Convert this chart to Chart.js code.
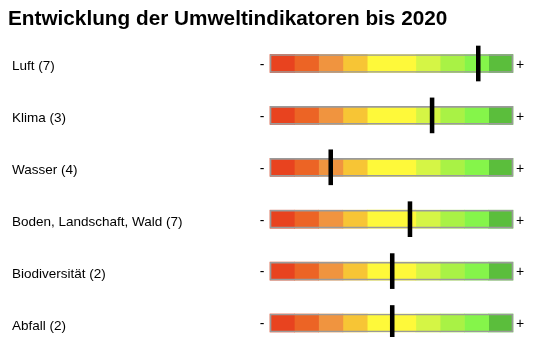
<!DOCTYPE html>
<html>
<head>
<meta charset="utf-8">
<script src="https://cdn.jsdelivr.net/npm/chart.js@4/dist/chart.umd.min.js"></script>
<style>
  html, body { margin: 0; padding: 0; background: #fff; }
  #wrap { width: 538px; height: 337px; }
</style>
</head>
<body>
<div id="wrap"><canvas id="indikatoren"></canvas></div>
<script>
// Kategorien und mittlere Bewertung (-5 = schlecht, +5 = gut)
var categories = ['Luft (7)', 'Klima (3)', 'Wasser (4)', 'Boden, Landschaft, Wald (7)', 'Biodiversität (2)', 'Abfall (2)'];
var scores = [3.57, 1.67, -2.5, 0.76, 0.03, 0.03];

// Grenzen der Farbfelder auf der Skala
var segmentEdges = [-5, -4, -3, -2, -1, 1, 2, 3, 4, 5];
var segmentColors = ['#e8431f', '#ec6425', '#f0943f', '#f7c535', '#fef93a', '#d5f545', '#a9f245', '#85f54a', '#5bbe3c'];

var titleText = 'Entwicklung der Umweltindikatoren bis 2020';
var markerHalf = 0.08;

var datasets = [];

// Markierung (oben)
datasets.push({
    label: 'Bewertung',
    data: scores.map(function (v) { return [v - markerHalf, v + markerHalf]; }),
    backgroundColor: '#000',
    barThickness: 35,
    grouped: false,
    order: 0,
    clip: false
});

// Rahmen
datasets.push({
    label: 'Rahmen',
    data: categories.map(function () { return [segmentEdges[0], segmentEdges[segmentEdges.length - 1]]; }),
    backgroundColor: 'rgba(0,0,0,0)',
    borderColor: '#9a9a9a',
    borderWidth: 1,
    borderSkipped: false,
    barThickness: 18,
    grouped: false,
    order: 1,
    clip: false
});

// Farbfelder
for (var i = 0; i < segmentColors.length; i++) {
    datasets.push({
        label: 'Feld ' + (i + 1),
        data: categories.map(function () { return [segmentEdges[i], segmentEdges[i + 1]]; }),
        backgroundColor: segmentColors[i],
        barThickness: 18,
        grouped: false,
        order: 2,
        clip: false
    });
}

// Titel sowie "-" und "+" an den Enden jeder Skala
var extraText = {
    id: 'extraText',
    afterDatasetsDraw: function (chart) {
        var ctx = chart.ctx;
        var x = chart.scales.x;
        var y = chart.scales.y;
        ctx.save();
        ctx.fillStyle = '#000';

        ctx.font = 'bold 20.75px "Liberation Sans", Arial, sans-serif';
        ctx.textAlign = 'left';
        ctx.textBaseline = 'alphabetic';
        ctx.fillText(titleText, 8, 25);

        ctx.font = '14px "Liberation Sans", Arial, sans-serif';
        ctx.textAlign = 'center';
        ctx.textBaseline = 'middle';
        categories.forEach(function (c, idx) {
            var yy = y.getPixelForValue(idx) + 1.5;
            ctx.fillText('-', x.getPixelForValue(segmentEdges[0]) - 8, yy);
            ctx.fillText('+', x.getPixelForValue(segmentEdges[segmentEdges.length - 1]) + 7, yy);
        });
        ctx.restore();
    }
};

var ctx = document.getElementById('indikatoren').getContext('2d');
var chart = new Chart(ctx, {
    type: 'bar',
    data: {
        labels: categories,
        datasets: datasets
    },
    options: {
        indexAxis: 'y',
        responsive: true,
        maintainAspectRatio: false,
        animation: false,
        layout: {
            padding: { left: 12, right: 25, top: 63.5, bottom: 14 }
        },
        scales: {
            x: {
                display: false,
                min: segmentEdges[0],
                max: segmentEdges[segmentEdges.length - 1]
            },
            y: {
                offset: false,
                grid: { display: false },
                border: { display: false },
                afterFit: function (scale) { scale.width = 258; },
                ticks: {
                    crossAlign: 'far',
                    color: '#000',
                    padding: 0,
                    labelOffset: 3,
                    font: { family: '"Liberation Sans", Arial, sans-serif', size: 13.5 }
                }
            }
        },
        plugins: {
            legend: { display: false },
            tooltip: { enabled: false },
            title: { display: false }
        }
    },
    plugins: [extraText]
});
</script>
</body>
</html>
